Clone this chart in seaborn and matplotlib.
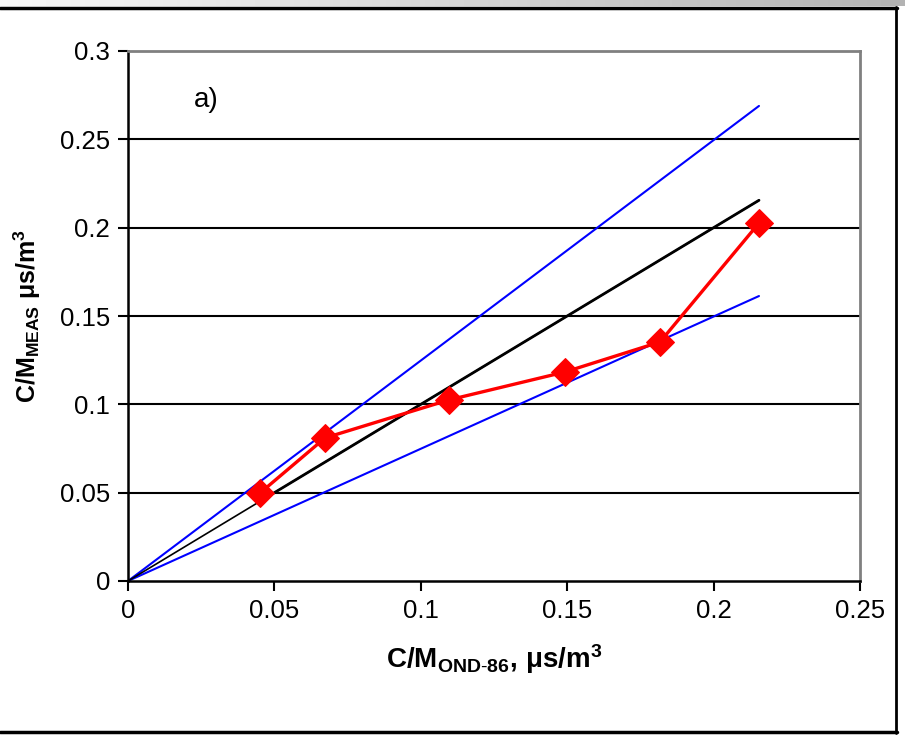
import numpy as np
import pandas as pd
import matplotlib
matplotlib.use("Agg")
import matplotlib.pyplot as plt
from matplotlib.lines import Line2D
import seaborn as sns

# measured points (red diamonds)
cm_ond = [0.0451, 0.0673, 0.1096, 0.1492, 0.1817, 0.2155]
cm_meas = [0.0498, 0.0810, 0.1025, 0.1183, 0.1353, 0.2026]

# reference lines: 1:1 and +/-25 %
ref_x = [0.0, 0.2155]
one_to_one = [0.0, 0.2155]
upper_25 = [0.0, 0.2689]
lower_25 = [0.0, 0.1613]
fit_x = [0.0451, 0.2155]
fit_y = [0.0451, 0.2155]

xticks = [0, 0.05, 0.1, 0.15, 0.2, 0.25]
xticklabels = ["0", "0.05", "0.1", "0.15", "0.2", "0.25"]
yticks = [0, 0.05, 0.1, 0.15, 0.2, 0.25, 0.3]
yticklabels = ["0", "0.05", "0.1", "0.15", "0.2", "0.25", "0.3"]

sns.set_style("white")
plt.rcParams["font.family"] = ["Liberation Sans", "DejaVu Sans"]
plt.rcParams["mathtext.fontset"] = "custom"
plt.rcParams["mathtext.rm"] = "Liberation Sans"
plt.rcParams["mathtext.bf"] = "Liberation Sans:bold"
plt.rcParams["mathtext.it"] = "Liberation Sans:italic"
plt.rcParams["text.color"] = "black"
plt.rcParams["axes.labelcolor"] = "black"
plt.rcParams["xtick.color"] = "black"
plt.rcParams["ytick.color"] = "black"

W, H = 905, 736
fig = plt.figure(figsize=(W / 100, H / 100), dpi=100)
ax = fig.add_axes([128 / W, 1 - 581 / H, (860 - 128) / W, (581 - 51) / H])

# horizontal gridlines
for yv in yticks[1:-1]:
    ax.axhline(yv, color="black", lw=1.5, zorder=1)

sns.lineplot(x=ref_x, y=upper_25, ax=ax, color="#0000ff", lw=1.5, zorder=2)
sns.lineplot(x=ref_x, y=lower_25, ax=ax, color="#0000ff", lw=1.5, zorder=2)
sns.lineplot(x=ref_x, y=one_to_one, ax=ax, color="black", lw=1.2, zorder=2)
sns.lineplot(x=fit_x, y=fit_y, ax=ax, color="black", lw=2.0, zorder=2)
sns.lineplot(x=cm_ond, y=cm_meas, ax=ax, color="#ff0000", lw=2.4,
             marker="D", markersize=14, markeredgecolor="#ff0000", zorder=3)

ax.set_xlim(0, 0.25)
ax.set_ylim(0, 0.3)
ax.set_xticks(xticks)
ax.set_xticklabels(xticklabels)
ax.set_yticks(yticks)
ax.set_yticklabels(yticklabels)
ax.tick_params(axis="both", direction="out", length=7, width=1.5, colors="black",
               labelsize=18.5, pad=6, left=True, bottom=True)

for side in ["left", "bottom"]:
    ax.spines[side].set_color("black")
    ax.spines[side].set_linewidth(1.8)
for side in ["top", "right"]:
    ax.spines[side].set_color("#808080")
    ax.spines[side].set_linewidth(2.0)

ax.set_xlabel(r"$\mathbf{C/M_{OND\text{-}86},\,\mu s/m^3}$", fontsize=20, labelpad=14)
ax.set_ylabel(r"$\mathbf{C/M_{MEAS}\ \mu s/m^3}$", fontsize=18, labelpad=12)

ax.text(0.0225, 0.272, "a)", fontsize=20, ha="left", va="center")

# outer frame like the original document capture
grad = fig.add_axes([0, 1 - 6 / H, 1, 6 / H])
grad.imshow(np.linspace(0.97, 0.7, 256).reshape(1, -1), cmap="gray", vmin=0, vmax=1,
            aspect="auto", extent=[0, 1, 0, 1])
grad.set_axis_off()
fig.add_artist(Line2D([0, 897 / W], [1 - 7.5 / H, 1 - 7.5 / H], color="black", lw=2.5))
fig.add_artist(Line2D([896 / W, 896 / W], [1 - 7 / H, 1 - 733 / H], color="black", lw=2.0))
fig.add_artist(Line2D([0, 897 / W], [1 - 732 / H, 1 - 732 / H], color="black", lw=2.5))

fig.savefig("out.png", dpi=100)
